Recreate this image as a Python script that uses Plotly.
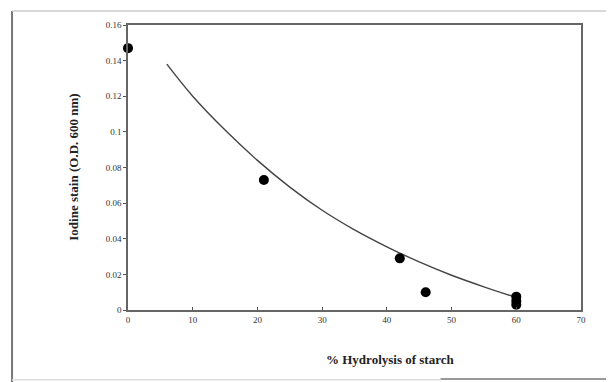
import plotly.graph_objects as go

hydrolysis = [0, 21, 42, 46, 60, 60, 60]
iodine = [0.147, 0.073, 0.029, 0.010, 0.0075, 0.005, 0.003]

# Trend curve points
curve_x = [6, 10, 15, 20, 25, 30, 35, 40, 45, 50, 55, 60]
curve_y = [0.138, 0.120, 0.101, 0.084, 0.069, 0.056, 0.045, 0.0355, 0.027, 0.0195, 0.013, 0.007]

x_ticks = [0, 10, 20, 30, 40, 50, 60, 70]
y_ticks = [0, 0.02, 0.04, 0.06, 0.08, 0.1, 0.12, 0.14, 0.16]
y_tick_labels = ["0", "0.02", "0.04", "0.06", "0.08", "0.1", "0.12", "0.14", "0.16"]

fig = go.Figure()
fig.add_trace(go.Scatter(x=curve_x, y=curve_y, mode="lines",
                         line=dict(color="#444444", width=1.4, shape="spline"),
                         showlegend=False, hoverinfo="skip"))
fig.add_trace(go.Scatter(x=hydrolysis, y=iodine, mode="markers",
                         marker=dict(color="black", size=10),
                         showlegend=False, cliponaxis=False))

axis_font = dict(family="Liberation Serif", size=9, color="#333333")
fig.update_xaxes(range=[0, 70], tickvals=x_ticks, ticks="inside", ticklen=3,
                 tickcolor="#555555", showline=True, linecolor="#666666", linewidth=1.5,
                 mirror=True, showgrid=False, zeroline=False, tickfont=axis_font)
fig.update_yaxes(range=[0, 0.16], tickvals=y_ticks, ticktext=y_tick_labels,
                 ticks="outside", ticklen=3, tickcolor="#555555",
                 showline=True, linecolor="#666666", linewidth=1.5, mirror=True,
                 showgrid=False, zeroline=False, tickfont=axis_font)

title_font = dict(family="Liberation Serif", size=13, color="#222222")
fig.add_annotation(text="<b>% Hydrolysis of starch</b>", xref="paper", yref="paper",
                   x=0.578, y=-0.175, showarrow=False, font=title_font,
                   xanchor="center", yanchor="middle")
fig.add_annotation(text="<b>Iodine stain (O.D. 600 nm)</b>", xref="paper", yref="paper",
                   x=-0.121, y=0.5, showarrow=False, font=title_font, textangle=-90,
                   xanchor="center", yanchor="middle")

# outer frame of the scanned page
fig.add_shape(type="line", xref="paper", yref="paper", x0=-0.256, x1=-0.256,
              y0=1.049, y1=-0.3, line=dict(color="#777777", width=2))
fig.add_shape(type="line", xref="paper", yref="paper", x0=-0.256, x1=1.07,
              y0=1.049, y1=1.049, line=dict(color="#cccccc", width=1.5))
fig.add_shape(type="line", xref="paper", yref="paper", x0=-0.256, x1=0.69,
              y0=-0.245, y1=-0.245, line=dict(color="#dddddd", width=1.5))
fig.add_shape(type="line", xref="paper", yref="paper", x0=0.69, x1=1.08,
              y0=-0.242, y1=-0.242, line=dict(color="#999999", width=2))

fig.update_layout(width=614, height=382, margin=dict(l=120, r=41, t=17, b=80),
                  plot_bgcolor="white", paper_bgcolor="white")

fig.write_html("out.html")
